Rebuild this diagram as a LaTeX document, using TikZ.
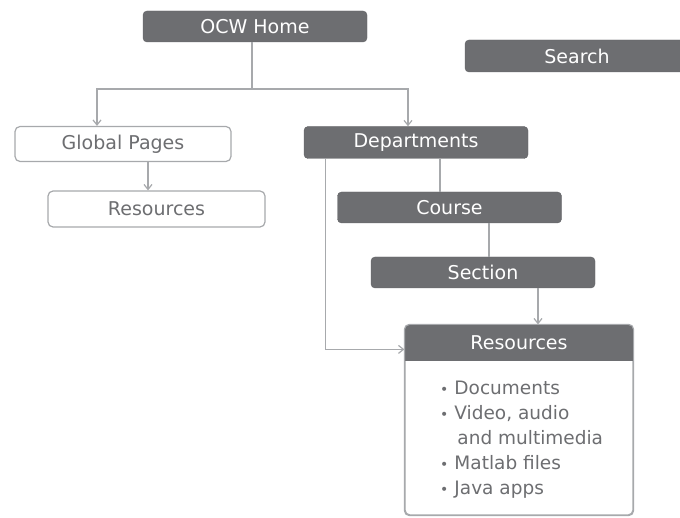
\documentclass[tikz,border=0pt]{standalone}
\usepackage{fontspec}
\setmainfont{DejaVu Sans}
\usetikzlibrary{arrows.meta,calc}
\definecolor{boxdark}{HTML}{6D6E71}
\definecolor{linegray}{HTML}{A7A9AC}
\definecolor{txtgray}{HTML}{6D6E71}
\begin{document}
\begin{tikzpicture}[x=1pt,y=-1pt,
  darkbox/.style={fill=boxdark, draw=boxdark!90!black, rounded corners=4pt, text=white,
    font=\fontsize{19}{22}\selectfont, inner sep=0pt},
  whitebox/.style={fill=white, draw=linegray, line width=1.2pt, rounded corners=5pt, text=txtgray,
    font=\fontsize{19}{22}\selectfont, inner sep=0pt},
  conn/.style={draw=linegray, line width=1.2pt},
  arr/.style={conn, -{Straight Barb[length=5pt,width=8pt]}},
]
\useasboundingbox (0,0) rectangle (680,518);

\node[darkbox, minimum width=224pt, minimum height=31pt] (home) at (255,26.5) {OCW Home};
\node[darkbox, minimum width=224pt, minimum height=32pt] (search) at (577,56) {Search};
\node[whitebox, minimum width=216pt, minimum height=35pt] (global) at (123,144) {Global Pages};
\node[whitebox, minimum width=217pt, minimum height=36pt] (resL) at (156.5,209) {Resources};
\node[darkbox, minimum width=224pt, minimum height=32pt] (dept) at (416,142.5) {Departments};
\node[darkbox, minimum width=224pt, minimum height=31pt] (course) at (449.5,207.5) {Course};
\node[darkbox, minimum width=224pt, minimum height=31pt] (section) at (483,272.5) {Section};

% Resources (right) box
\node[whitebox, minimum width=228pt, minimum height=190pt] (resbox) at (519,420) {};
\begin{scope}
  \clip[rounded corners=5pt] (resbox.north west) rectangle (resbox.south east);
  \fill[boxdark] (resbox.north west) rectangle ([yshift=-37pt]resbox.north east);
\end{scope}
\draw[linegray, line width=1.2pt, rounded corners=5pt] (resbox.north west) rectangle (resbox.south east);
\node[text=white, font=\fontsize{19}{22}\selectfont, anchor=center] (reshead) at ([yshift=-18.5pt]resbox.north) {Resources};
\node[text=txtgray, font=\fontsize{18.5}{25}\selectfont, anchor=north west, inner sep=0pt, align=left] (list) at (440,377)
 {\begin{tabular}{@{}l@{\hspace{6pt}}l@{}}
  {\fontsize{14}{25}\selectfont •}&Documents\\
  {\fontsize{14}{25}\selectfont •}&Video, audio\\
   &\hspace{3pt}and multimedia\\
  {\fontsize{14}{25}\selectfont •}&Matlab files\\
  {\fontsize{14}{25}\selectfont •}&Java apps
 \end{tabular}};

% connectors
\coordinate (j) at (252,89);
\draw[conn] (home.south -| j) -- (j);
\draw[arr] (j) -| ([xshift=-26pt]global.north);
\draw[arr] (j) -| ([xshift=-8pt]dept.north);
\draw[arr] ([xshift=25pt]global.south) -- ([xshift=25pt]global.south |- resL.north);
\draw[conn] ([xshift=24pt]dept.south) -- ([xshift=24pt]dept.south |- course.north);
\draw[conn] ([xshift=39.5pt]course.south) -- ([xshift=39.5pt]course.south |- section.north);
\draw[arr] ([xshift=55pt]section.south) -- ([xshift=55pt]section.south |- resbox.north);
\draw[arr] ([xshift=22pt]dept.south west) |- ([yshift=-25pt]resbox.north west);
\end{tikzpicture}
\end{document}
